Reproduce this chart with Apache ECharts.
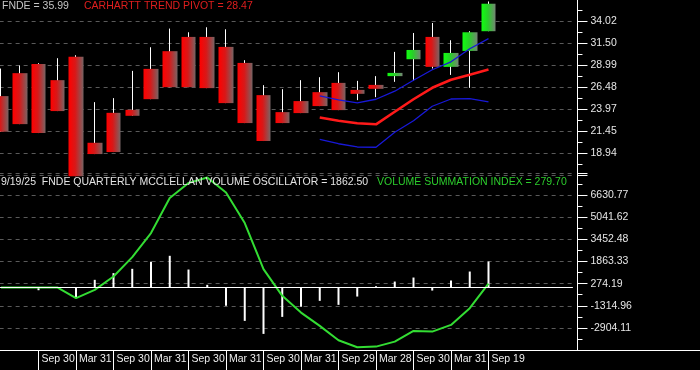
<!DOCTYPE html>
<html><head><meta charset="utf-8">
<script src="https://cdn.jsdelivr.net/npm/echarts@6/dist/echarts.min.js"></script>
<style>html,body{margin:0;padding:0;background:#000;}#c{width:700px;height:370px;}</style>
</head><body><div id="c"></div>
<script>
// ---- data (quarterly) ----
const categories = ['Mar 29','Jun 28','Sep 30','Dec 31','Mar 31','Jun 30','Sep 30','Dec 31','Mar 31','Jun 30','Sep 30','Dec 31','Mar 31','Jun 30','Sep 30','Dec 30','Mar 31','Jun 30','Sep 29','Dec 29','Mar 28','Jun 28','Sep 30','Dec 31','Mar 31','Jun 30','Sep 19'];
const openP  = [25.44,28.06,29.12,27.26,29.92,20.11,23.53,23.87,28.55,30.57,32.20,32.20,31.06,29.23,25.55,23.61,24.87,25.89,26.95,26.15,26.72,27.72,29.65,32.20,28.78,30.60,32.85];
const closeP = [21.37,22.24,21.22,23.73,16.30,18.82,19.05,23.19,25.09,26.46,26.46,26.35,24.64,22.36,20.31,22.36,23.50,24.30,23.84,25.70,26.27,28.09,30.71,28.78,30.37,32.73,35.99];
const lowP   = [21.37,22.24,21.22,23.73,16.30,18.82,19.05,23.19,25.09,26.46,26.46,26.35,24.64,22.36,20.31,22.36,23.50,24.30,23.84,24.98,25.32,27.07,27.18,28.59,27.86,26.38,32.85];
const highP  = [28.59,28.94,29.20,29.77,30.11,24.75,25.21,28.32,31.02,33.15,32.73,33.30,33.07,29.54,26.69,26.23,27.26,27.60,28.17,27.18,27.72,30.49,32.65,33.79,31.82,32.85,36.25];
// Carhartt trend state per quarter (1 = up / green, -1 = down / red)
const trend  = [-1,-1,-1,-1,-1,-1,-1,-1,-1,-1,-1,-1,-1,-1,-1,-1,-1,-1,-1,-1,-1,1,1,-1,1,1,1];
// Carhartt trend pivot and bands (last 10 quarters)
const pivot     = [22.99,22.62,22.34,22.22,23.65,25.08,26.39,27.31,27.88,28.47];
const upperBand = [25.46,25.02,24.66,25.08,26.00,27.25,28.45,29.36,30.85,32.01];
const lowerBand = [20.51,20.00,19.63,19.60,21.31,22.62,24.28,25.11,25.16,24.79];
// McClellan volume oscillator (bars) and volume summation index (line)
const oscillator = [0,0,-200,0,-697,546,1028,1337,1841,2272,1287,187,-1323,-2401,-3336,-2114,-1395,-963,-1251,-654,80,424,712,-223,496,1143,1862.50];
const summation  = [0,0,0,0,-769,-173,784,2179,3904,6421,7499,7902,6823,4623,1316,-604,-1805,-2761,-3789,-4292,-4249,-3890,-3120,-3171,-2689,-1488,279.70];
// axis tick layout
const priceMin = 16.4295, priceStep = 2.5125;
const oscMin = -4493.252, oscStep = 1589.146;

// ---- build ----
const FONT = "'Liberation Sans', Arial, sans-serif";
const FS = 10.5;
const xCats = categories.concat(['Dec 31 ','Mar 31 ','Jun 30 ','Sep 30 ']);
const showIdx = (i) => i % 2 === 0 && i > 0 && i < categories.length;
const fmt = (v) => v.toFixed(2);

const redGrad = {type:'linear',x:0,y:0,x2:1,y2:0,colorStops:[{offset:0,color:'#ff0000'},{offset:0.45,color:'#d81818'},{offset:1,color:'#786464'}]};
const greenGrad = {type:'linear',x:0,y:0,x2:1,y2:0,colorStops:[{offset:0,color:'#10ff10'},{offset:0.45,color:'#28d028'},{offset:1,color:'#748474'}]};

const wickData = categories.map((_, i) => [openP[i], closeP[i], lowP[i], highP[i]]);
const bodyData = categories.map((_, i) => {
  const g = trend[i] > 0 ? greenGrad : redGrad;
  return {
    value: [openP[i], closeP[i], Math.min(openP[i], closeP[i]), Math.max(openP[i], closeP[i])],
    itemStyle: {color: g, color0: g, borderColor: 'rgba(0,0,0,0)', borderColor0: 'rgba(0,0,0,0)', borderWidth: 0}
  };
});
const pad = Array(categories.length - pivot.length).fill('-');

const OFFSET = 4.6;
function mainAxis(grid, min, step) {
  return {
    type:'value', gridIndex:grid, position:'right', offset:OFFSET,
    min:min, max:min + 8 * step, interval:step,
    axisLine:{show:true, onZero:false, lineStyle:{color:'#ffffff', width:1}},
    axisTick:{show:true, length:10, lineStyle:{color:'#ffffff', width:1}},
    minorTick:{show:true, splitNumber:2, length:5, lineStyle:{color:'#ffffff', width:1}},
    minorSplitLine:{show:false},
    axisLabel:{show:true, showMinLabel:false, showMaxLabel:false, margin:13, color:'#e6e6e6', fontSize:FS, fontFamily:FONT, formatter: fmt},
    splitLine:{show:true, lineStyle:{color:'#5a5a5a', width:1, type:[4,4]}}
  };
}

const option = {
  backgroundColor:'#000000',
  animation:false,
  grid:[
    {left:-8.375, width:581.25, top:-1, height:176, containLabel:false, outerBoundsMode:'none'},
    {left:-8.375, width:581.25, top:173, height:177, containLabel:false, outerBoundsMode:'none'}
  ],
  xAxis:[
    {type:'category', gridIndex:0, data:xCats, boundaryGap:true, show:false},
    {type:'category', gridIndex:1, data:xCats, boundaryGap:true, position:'bottom',
     axisLine:{show:false, onZero:false},
     axisTick:{show:true, alignWithLabel:true, length:20, interval:(i)=>showIdx(i), lineStyle:{color:'#ffffff', width:1}},
     axisLabel:{show:true, interval:(i)=>showIdx(i), align:'left', margin:4, padding:[0,0,0,3], color:'#eeeeee', fontSize:FS, fontFamily:FONT},
     splitLine:{show:false}}
  ],
  yAxis:[
    mainAxis(0, priceMin, priceStep),
    mainAxis(1, oscMin, oscStep)
  ],
  series:[
    {type:'candlestick', name:'wick', xAxisIndex:0, yAxisIndex:0, data:wickData, barWidth:0.01, z:2,
     itemStyle:{color:'#ffffff', color0:'#ffffff', borderColor:'#ffffff', borderColor0:'#ffffff', borderColorDoji:'#ffffff', borderWidth:1}},
    {type:'candlestick', name:'FNDE', xAxisIndex:0, yAxisIndex:0, data:bodyData, barWidth:15, z:3},
    {type:'line', name:'pivot', xAxisIndex:0, yAxisIndex:0, data:pad.concat(pivot), showSymbol:false, symbol:'none', z:4,
     lineStyle:{color:'#ff1a1a', width:2.6}},
    {type:'line', name:'upper', xAxisIndex:0, yAxisIndex:0, data:pad.concat(upperBand), showSymbol:false, symbol:'none', z:4,
     lineStyle:{color:'#1818d8', width:1.3}},
    {type:'line', name:'lower', xAxisIndex:0, yAxisIndex:0, data:pad.concat(lowerBand), showSymbol:false, symbol:'none', z:4,
     lineStyle:{color:'#1818d8', width:1.3}},
    {type:'bar', name:'oscillator', xAxisIndex:1, yAxisIndex:1, data:oscillator, barWidth:2, z:2,
     itemStyle:{color:'#ffffff'},
     markLine:{silent:true, symbol:['none','none'], label:{show:false}, lineStyle:{color:'#ffffff', width:1, type:'solid'}, data:[{yAxis:0}]}},
    {type:'line', name:'summation', xAxisIndex:1, yAxisIndex:1, data:summation, showSymbol:false, symbol:'none', z:4,
     lineStyle:{color:'#33dd33', width:2}}
  ],
  graphic:[
    {type:'line', z:10, shape:{x1:0, y1:350.5, x2:700, y2:350.5}, style:{stroke:'#ffffff', lineWidth:1}},
    {type:'text', z:10, style:{x:2, y:6.5, text:'FNDE = 35.99', fill:'#c4c4c4', font:FS+'px '+FONT, verticalAlign:'middle', textVerticalAlign:'middle'}},
    {type:'text', z:10, style:{x:84, y:6.5, text:'CARHARTT TREND PIVOT = 28.47', fill:'#e01e1e', font:FS+'px '+FONT, verticalAlign:'middle', textVerticalAlign:'middle'}},
    {type:'text', z:10, style:{x:1, y:182, text:'9/19/25  FNDE QUARTERLY MCCLELLAN VOLUME OSCILLATOR = 1862.50', fill:'#e4e4e4', font:FS+'px '+FONT, verticalAlign:'middle', textVerticalAlign:'middle'}},
    {type:'text', z:10, style:{x:377, y:182, text:'VOLUME SUMMATION INDEX = 279.70', fill:'#2ccc2c', font:FS+'px '+FONT, verticalAlign:'middle', textVerticalAlign:'middle'}}
  ]
};
const chart = echarts.init(document.getElementById('c'), null, {renderer:'canvas', width:700, height:370});
chart.setOption(option);
</script>
</body></html>
